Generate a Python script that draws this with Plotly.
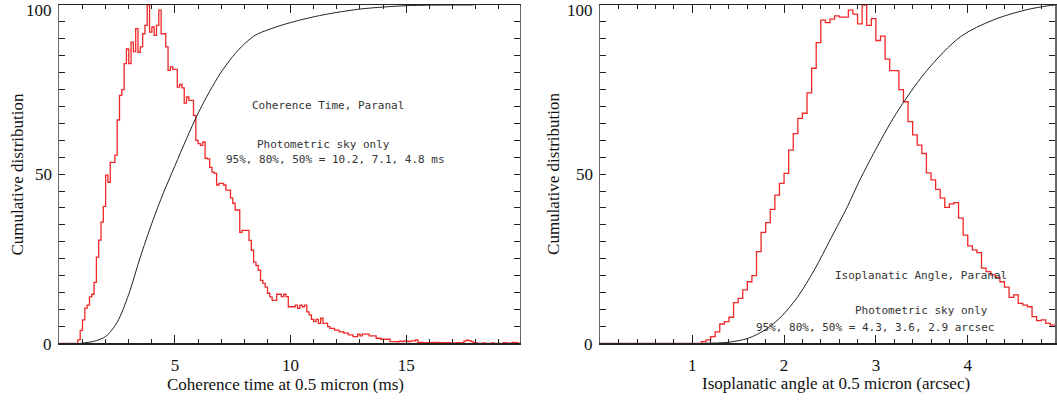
import plotly.graph_objects as go

W, H = 1057, 401

# ---------------- data: coherence time (left panel) ----------------
coh_bin_start = 0.0
coh_bin_width = 0.1
coh_hist = [
    0, 0, 0, 0, 0, 0, 0, 0, 1.0, 3.8,
    6.9, 10.4, 11.3, 13.7, 14.5, 18, 25.5, 30.5, 35.8, 40.5,
    49.7, 47.6, 53.5, 53.5, 55.6, 66, 73.3, 75, 82.7, 87,
    82.7, 89, 86.2, 93, 86, 87.6, 91.5, 94, 100, 92,
    93.5, 91, 94, 98.5, 91.5, 91.5, 87.6, 80.7, 81.7, 81,
    81, 75.7, 76.5, 75.5, 71, 72.8, 71.8, 71.8, 67.4, 60,
    59, 58.5, 59.5, 54.7, 54.5, 52, 50.6, 50.2, 46.8, 47.3,
    47.3, 46.8, 45.3, 45.3, 43, 41.4, 39.4, 39.4, 32.8, 33.4,
    33.4, 33.4, 30.4, 27.5, 24, 23, 21.6, 18.6, 17.7, 16.6,
    14.8, 13.7, 12.7, 12.7, 14.5, 14.5, 13.8, 14.5, 13.8, 10.8,
    10.8, 10.8, 11.3, 10.3, 11.3, 10.8, 11.3, 9.3, 8.4, 7.1,
    6.4, 7.1, 5.9, 7.4, 5.9, 5.9, 4.9, 4.4, 4.4, 3.9,
    3.9, 3.4, 3.4, 3.0, 3.0, 2.5, 2.5, 2.0, 2.0, 2.7,
    2.2, 2.7, 2.7, 2.7, 2.2, 2.2, 2.2, 1.5, 1.5, 1.2,
    1.2, 1.2, 1.2, 0.5, 0.5, 0.5, 0.4, 0.6, 0.5, 0.7,
    0.6, 0.5, 0.7, 0.7, 1.0, 0.3, 0.3, 0.2, 0.2, 0.2,
    0.2, 0.3, 0.2, 0.3, 0.2, 0.2, 0.2, 0.1, 0.2, 0.1,
    0.1, 0.1, 0.2, 0.1, 0.2, 0.7, 0.9, 0.8, 0.5, 0.2,
    0.1, 0, 0, 0.1, 0, 0, 0, 0.1, 0, 0,
    0, 0, 0.2, 0.1, 0, 0.1, 0.3, 0.2, 0.1,
]
coh_cum_x = [0.9, 1.5, 2.0, 2.5, 3.0, 3.5, 4.0, 4.5, 5.0, 5.5, 6.0, 6.5, 7.0, 7.5,
             8.0, 8.5, 9.0, 9.5, 10.0, 10.5, 11.0, 11.5, 12.0, 13.0, 14.0, 15.0,
             16.0, 17.0, 17.9]
coh_cum_y = [0, 0.6, 2.0, 6.2, 14.5, 25.5, 35.5, 44.5, 52.5, 60.5, 68, 74.5, 80.2, 84.8,
             88.5, 91.2, 92.6, 93.8, 94.8, 95.7, 96.5, 97.2, 97.8, 98.8, 99.4, 99.8,
             99.95, 100, 100]

# ---------------- data: isoplanatic angle (right panel) ----------------
iso_bin_start = 0.0
iso_bin_width = 0.05
iso_hist = [0] * 22 + [
    0.5, 1.0, 2.0, 3.4, 5.7, 6.4, 7.7, 12, 13.3, 15.8,
    18.2, 20, 27.1, 32.8, 35.7, 39.6, 43.8, 47.3, 50.2, 57.1,
    62, 66.5, 68, 74, 81.3, 88.9, 95.5, 94.8, 95.8, 96.8,
    96.4, 96.4, 98.5, 97.3, 94.4, 100, 94, 96, 89.5, 90.8,
    84, 80.6, 80.6, 75, 71.4, 65.5, 61.6, 58.6, 56.1, 50.4,
    48.3, 45.5, 42.9, 40.2, 41.2, 41.6, 37, 32, 28.8, 27.6,
    26.8, 22.2, 21.2, 20.2, 19.5, 18.2, 16.6, 13.6, 14.3, 11.8,
    11.3, 10.8, 7.9, 6.7, 6.9, 5.9, 5.4,
]
iso_cum_x = [1.1, 1.39, 1.61, 1.79, 1.97, 2.15, 2.33, 2.51, 2.69, 2.82, 3.02, 3.16,
             3.29, 3.56, 3.92, 4.28, 4.64, 4.86, 4.95]
iso_cum_y = [0, 0.3, 1.5, 3.9, 7.9, 13.8, 21.7, 31.0, 40.4, 48.0, 58.4, 65.2,
             70.8, 80.8, 90.6, 95.6, 98.6, 99.7, 100]

coh_xticks = [5, 10, 15]
iso_xticks = [1, 2, 3, 4]
y_ticks = [0, 50, 100]

# ---------------- build step curves ----------------
def step_xy(start, width, vals):
    xs = [start + i * width for i in range(len(vals) + 1)]
    ys = list(vals) + [vals[-1]]
    return xs, ys

RED = "#f02828"
fig = go.Figure()
cx, cy = step_xy(coh_bin_start, coh_bin_width, coh_hist)
fig.add_trace(go.Scatter(x=cx, y=cy, mode="lines", line=dict(color=RED, width=1.3, shape="hv"),
                         xaxis="x", yaxis="y", showlegend=False))
fig.add_trace(go.Scatter(x=coh_cum_x, y=coh_cum_y, mode="lines",
                         line=dict(color="#222", width=1, shape="spline", smoothing=0.8),
                         xaxis="x", yaxis="y", showlegend=False))
ix, iy = step_xy(iso_bin_start, iso_bin_width, iso_hist)
fig.add_trace(go.Scatter(x=ix, y=iy, mode="lines", line=dict(color=RED, width=1.3, shape="hv"),
                         xaxis="x2", yaxis="y2", showlegend=False))
fig.add_trace(go.Scatter(x=iso_cum_x, y=iso_cum_y, mode="lines",
                         line=dict(color="#222", width=1, shape="spline", smoothing=0.9),
                         xaxis="x2", yaxis="y2", showlegend=False))

SERIF = "Liberation Serif, Times New Roman, serif"
MONO = "DejaVu Sans Mono, monospace"
ydom = [(H - 343.3) / H, (H - 5) / H]

def xax(dom, rng, tickvals, minor_step):
    n = int(round(rng[1] / minor_step))
    return dict(domain=dom, range=rng, tickmode="array", tickvals=tickvals,
                ticks="inside", ticklen=8, tickwidth=1, tickcolor="#222",
                minor=dict(tickmode="array", tickvals=[round(i * minor_step, 3) for i in range(n + 1)],
                           ticks="inside", ticklen=4, tickcolor="#222", tickwidth=1),
                showline=True, linecolor="#222", linewidth=1.5, mirror="ticks",
                showgrid=False, zeroline=False, ticklabelstandoff=6,
                tickfont=dict(family=SERIF, size=17, color="#111"))

def yax(anchor):
    return dict(domain=ydom, range=[0, 100], tickmode="array", tickvals=y_ticks,
                showticklabels=False,
                ticks="inside", ticklen=6, tickwidth=1, tickcolor="#222",
                minor=dict(tickmode="array", tickvals=list(range(0, 101, 5)),
                           ticks="inside", ticklen=6, tickcolor="#222", tickwidth=1),
                showline=True, linecolor="#666", linewidth=1.5, mirror="ticks",
                showgrid=False, zeroline=False, anchor=anchor)

fig.update_layout(
    width=W, height=H, margin=dict(l=0, r=0, t=0, b=0),
    paper_bgcolor="white", plot_bgcolor="white", hovermode=False,
    xaxis=dict(xax([59.5 / W, 520.5 / W], [0, 19.9], coh_xticks, 1), anchor="y"),
    yaxis=yax("x"),
    xaxis2=dict(xax([601.5 / W, 1.0], [0, 4.95], iso_xticks, 0.2), anchor="y2"),
    yaxis2=yax("x2"),
)

# y tick labels placed on the y scale (the top one sits just below its tick)
label_shift = {0: -1, 50: 0, 100: -5}
for xr, yr in (("x domain", "y"), ("x2 domain", "y2")):
    for v in y_ticks:
        fig.add_annotation(text=str(v), xref=xr, yref=yr, x=0, y=v,
                           xanchor="right", yanchor="middle", xshift=-5, yshift=label_shift[v],
                           showarrow=False, font=dict(family=SERIF, size=17, color="#111"))

def ann(text, px, py, size, family, angle=0, color="#111"):
    fig.add_annotation(text=text, xref="paper", yref="paper", x=px / W, y=1 - py / H,
                       xanchor="center", yanchor="middle", showarrow=False, textangle=angle,
                       font=dict(family=family, size=size, color=color))

ann("Cumulative distribution", 17.5, 174, 17, SERIF, -90)
ann("Cumulative distribution", 554, 174, 17, SERIF, -90)
ann("Coherence time at 0.5 micron (ms)", 286, 384, 17, SERIF)
ann("Isoplanatic angle at 0.5 micron (arcsec)", 838, 383, 17, SERIF)

ann("Coherence Time, Paranal", 329, 106, 11, MONO, color="#333")
ann("Photometric sky only", 324, 144, 11, MONO, color="#333")
ann("95%, 80%, 50% = 10.2, 7.1, 4.8 ms", 336, 159, 11, MONO, color="#333")
ann("Isoplanatic Angle, Paranal", 923, 275, 11, MONO, color="#333")
ann("Photometric sky only", 923, 310, 11, MONO, color="#333")
ann("95%, 80%, 50% = 4.3, 3.6, 2.9 arcsec", 877, 327, 11, MONO, color="#333")

fig.write_html("out.html", config={"displayModeBar": False, "staticPlot": True},
               post_script="document.body.style.margin='0';document.body.style.overflow='hidden';")
